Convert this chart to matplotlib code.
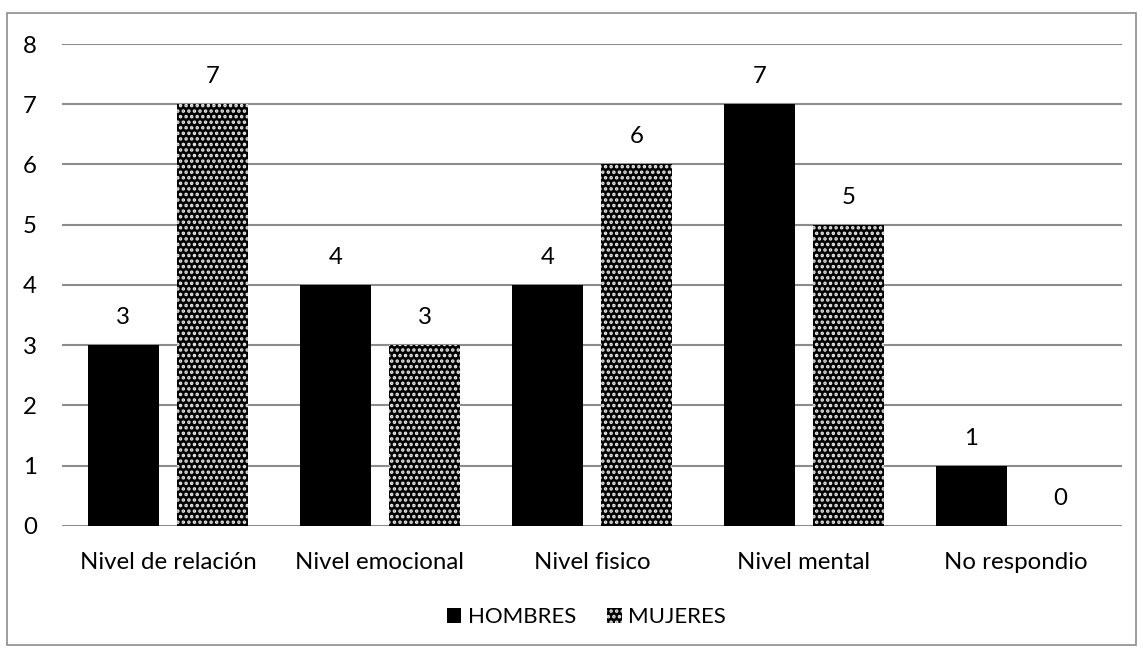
import matplotlib.pyplot as plt
import matplotlib.patches as patches
import numpy as np

plt.rcParams["font.family"] = ["Lato", "DejaVu Sans"]
plt.rcParams["hatch.color"] = "#ececec"
plt.rcParams["hatch.linewidth"] = 1.7

categories = ["Nivel de relación", "Nivel emocional", "Nivel fisico", "Nivel mental", "No respondio"]
hombres = [3, 4, 4, 7, 1]
mujeres = [7, 3, 6, 5, 0]
series_names = ["HOMBRES", "MUJERES"]

FS = 17.3

fig = plt.figure(figsize=(11.43, 6.52), dpi=100)
ax = fig.add_axes([0.0542, 0.1933, 0.9274, 0.7392])

x = np.arange(len(categories))
w = 0.335
off = 0.21

b1 = ax.bar(x - off, hombres, w, color="black", zorder=3)
b2 = ax.bar(x + off, mujeres, w, color="black", hatch="...", edgecolor="#ececec",
            linewidth=0, zorder=3)

for rect, v in zip(list(b1) + list(b2), hombres + mujeres):
    ax.text(rect.get_x() + rect.get_width() / 2, v + 0.46, str(v),
            ha="center", va="center", fontsize=FS)

ax.set_xlim(-0.5, len(categories) - 0.5)
ax.set_ylim(0, 8)
ax.set_yticks(range(0, 9))
ax.yaxis.grid(True, color="#8c8c8c", linewidth=1.5, zorder=0)
ax.set_axisbelow(True)
ax.set_xticks(x)
ax.set_xticklabels(categories)
ax.tick_params(axis="both", length=0, labelsize=FS)
ax.tick_params(axis="y", pad=18)
ax.tick_params(axis="x", pad=19)
for s in ax.spines.values():
    s.set_visible(False)

handles = [patches.Patch(facecolor="black"),
           patches.Patch(facecolor="black", hatch="...", edgecolor="#ececec", linewidth=0)]
fig.legend(handles, series_names, loc="center", bbox_to_anchor=(0.513, 0.053), ncol=2,
           frameon=False, fontsize=16, handlelength=0.65, handleheight=0.65,
           handletextpad=0.3, columnspacing=1.4)

fig.patches.append(patches.Rectangle((0.006, 0.01), 0.988, 0.97, transform=fig.transFigure,
                                     fill=False, edgecolor="#8c8c8c", linewidth=1.2))

fig.savefig("out.png", dpi=100)
